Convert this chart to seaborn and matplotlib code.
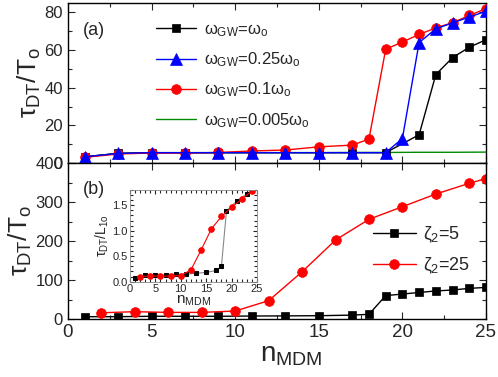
import matplotlib
matplotlib.use('Agg')
import matplotlib.pyplot as plt
import seaborn as sns
from matplotlib.ticker import MultipleLocator

#%% data

# panel (a)
n_a_black = [1, 3, 5, 7, 9, 11, 13, 15, 17, 19, 21, 22, 23, 24, 25]
v_a_black = [3.3, 5.1, 5.5, 5.5, 5.5, 5.5, 5.5, 5.5, 5.5, 5.5, 15, 47, 56, 61.5, 65.5]
n_a_blue = [1, 3, 5, 7, 9, 11, 13, 15, 17, 19, 20, 21, 22, 23, 24, 25]
v_a_blue = [3.3, 5.1, 5.5, 5.5, 5.5, 5.5, 5.5, 5.5, 5.5, 5.5, 13, 64, 71.3, 74.5, 77.5, 80.7]
n_a_red = [1, 3, 5, 7, 9, 11, 13, 15, 17, 18, 19, 20, 21, 22, 23, 24, 25]
v_a_red = [3.0, 4.8, 5.3, 5.3, 5.6, 6.4, 6.9, 8.6, 9.5, 12.7, 60.4, 64.3, 68.3, 71.8, 74.5, 78.4, 82]
n_a_green = [1, 3, 5, 7, 9, 11, 13, 15, 17, 19, 21, 23, 25]
v_a_green = [3.3, 5.1, 5.5, 5.5, 5.5, 5.5, 5.5, 5.5, 5.6, 5.6, 5.7, 5.7, 5.8]
labels_a = [r'$\omega_{GW}$=$\omega_o$', r'$\omega_{GW}$=0.25$\omega_o$',
            r'$\omega_{GW}$=0.1$\omega_o$', r'$\omega_{GW}$=0.005$\omega_o$']

# panel (b)
n_b_black = [1, 3, 5, 7, 9, 11, 13, 15, 17, 18, 19, 20, 21, 22, 23, 24, 25]
v_b_black = [6, 6, 7, 7, 7, 7.7, 8, 8.5, 10, 12, 60, 64, 68, 72, 74.4, 78.6, 81]
n_b_red = [2, 4, 6, 8, 10, 12, 14, 16, 18, 20, 22, 24, 25]
v_b_red = [16, 18.8, 17, 17, 20.5, 47, 121, 202.5, 255.6, 288, 320.5, 348, 360]
labels_b = [r'$\zeta_2$=5', r'$\zeta_2$=25']

# inset
n_i_black = [1, 3, 5, 7, 9, 11, 13, 15, 17, 18, 19, 21, 23]
v_i_black = [0.066, 0.125, 0.13, 0.13, 0.14, 0.145, 0.165, 0.18, 0.22, 0.30, 1.39, 1.58, 1.72]
n_i_red = [2, 4, 6, 8, 10, 12, 14, 16, 18, 20, 22, 24]
v_i_red = [0.1, 0.11, 0.105, 0.11, 0.12, 0.23, 0.62, 1.03, 1.28, 1.46, 1.62, 1.78]

#%% style

sns.set_style('ticks')
plt.rcParams['font.family'] = ['Liberation Sans', 'DejaVu Sans']
plt.rcParams['mathtext.fontset'] = 'custom'
plt.rcParams['mathtext.rm'] = 'Liberation Sans'
plt.rcParams['mathtext.it'] = 'Liberation Sans'
plt.rcParams['mathtext.sf'] = 'Liberation Sans'


def frame(ax, big=True):
    ax.tick_params(which='both', direction='in', top=True, right=True, width=0.8)
    ax.tick_params(which='major', length=5 if big else 3)
    ax.tick_params(which='minor', length=3 if big else 2)
    for s in ax.spines.values():
        s.set_linewidth(1.0 if big else 0.6)
        s.set_color('black' if big else '#888888')


fig = plt.figure(figsize=(4.98, 3.77), dpi=100)
ax_a = fig.add_axes([0.1365, 0.5676, 0.8394, 0.4244])
ax_b = fig.add_axes([0.1365, 0.1538, 0.8394, 0.4138])
ax_i = fig.add_axes([0.261, 0.253, 0.255, 0.243])

#%% panel (a)

kw = dict(linewidth=1.0, markeredgewidth=0.5)
sns.lineplot(x=n_a_green, y=v_a_green, color='#008a00', ax=ax_a, zorder=1, **kw)
sns.lineplot(x=n_a_black, y=v_a_black, color='black', marker='s', markersize=6,
             markeredgecolor='black', ax=ax_a, zorder=2, **kw)
sns.lineplot(x=n_a_red, y=v_a_red, color='red', marker='o', markersize=7,
             markeredgecolor='red', ax=ax_a, zorder=3, **kw)
sns.lineplot(x=n_a_blue, y=v_a_blue, color='blue', marker='^', markersize=8,
             markeredgecolor='blue', ax=ax_a, zorder=4, **kw)
ln = ax_a.get_lines()
ax_a.legend([ln[1], ln[3], ln[2], ln[0]], labels_a, loc='upper left',
            bbox_to_anchor=(0.175, 0.975), frameon=False, fontsize=12,
            handlelength=2.4, handletextpad=0.45, labelspacing=0.7)
ax_a.set_xlim(0, 25)
ax_a.set_ylim(0, 85)
ax_a.xaxis.set_major_locator(MultipleLocator(5))
ax_a.xaxis.set_minor_locator(MultipleLocator(2.5))
ax_a.yaxis.set_major_locator(MultipleLocator(20))
ax_a.yaxis.set_minor_locator(MultipleLocator(10))
ax_a.set_xticklabels([])
ax_a.tick_params(axis='y', labelsize=12)
ax_a.set_ylabel(r'$\tau_{DT}/T_o$', fontsize=19, labelpad=1)
ax_a.text(0.035, 0.80, '(a)', transform=ax_a.transAxes, fontsize=13)
frame(ax_a)

#%% panel (b)

sns.lineplot(x=n_b_black, y=v_b_black, color='black', marker='s', markersize=6,
             markeredgecolor='black', ax=ax_b, label=labels_b[0], **kw)
sns.lineplot(x=n_b_red, y=v_b_red, color='red', marker='o', markersize=7,
             markeredgecolor='red', ax=ax_b, label=labels_b[1], **kw)
ax_b.legend(loc='upper left', bbox_to_anchor=(0.69, 0.71), frameon=False, fontsize=13,
            handlelength=2.4, handletextpad=0.4, labelspacing=0.6)
ax_b.set_xlim(0, 25)
ax_b.set_ylim(0, 400)
ax_b.xaxis.set_major_locator(MultipleLocator(5))
ax_b.xaxis.set_minor_locator(MultipleLocator(2.5))
ax_b.yaxis.set_major_locator(MultipleLocator(100))
ax_b.yaxis.set_minor_locator(MultipleLocator(50))
ax_b.tick_params(axis='y', labelsize=12)
ax_b.tick_params(axis='x', labelsize=13.5)
ax_b.set_ylabel(r'$\tau_{DT}/T_o$', fontsize=19, labelpad=1)
ax_b.set_xlabel(r'$n_{MDM}$', fontsize=20, labelpad=0)
ax_b.xaxis.set_label_coords(0.535, -0.15)
ax_b.text(0.035, 0.80, '(b)', transform=ax_b.transAxes, fontsize=13)
frame(ax_b)

#%% inset

sns.lineplot(x=n_i_black, y=v_i_black, color='#888888', marker='s', markersize=3.5,
             markerfacecolor='black', markeredgecolor='black', linewidth=0.8, ax=ax_i)
sns.lineplot(x=n_i_red, y=v_i_red, color='red', marker='o', markersize=4,
             markeredgecolor='red', linewidth=0.8, ax=ax_i)
ax_i.set_xlim(0, 25)
ax_i.set_ylim(0, 1.8)
ax_i.xaxis.set_major_locator(MultipleLocator(5))
ax_i.xaxis.set_minor_locator(MultipleLocator(1))
ax_i.yaxis.set_major_locator(MultipleLocator(0.5))
ax_i.yaxis.set_minor_locator(MultipleLocator(0.1))
ax_i.tick_params(labelsize=8, pad=1.5)
ax_i.set_ylabel(r'$\tau_{DT}/L_{1o}$', fontsize=10, labelpad=1)
ax_i.set_xlabel(r'$n_{MDM}$', fontsize=11, labelpad=0)
frame(ax_i, big=False)

fig.savefig('out.png', dpi=100)
